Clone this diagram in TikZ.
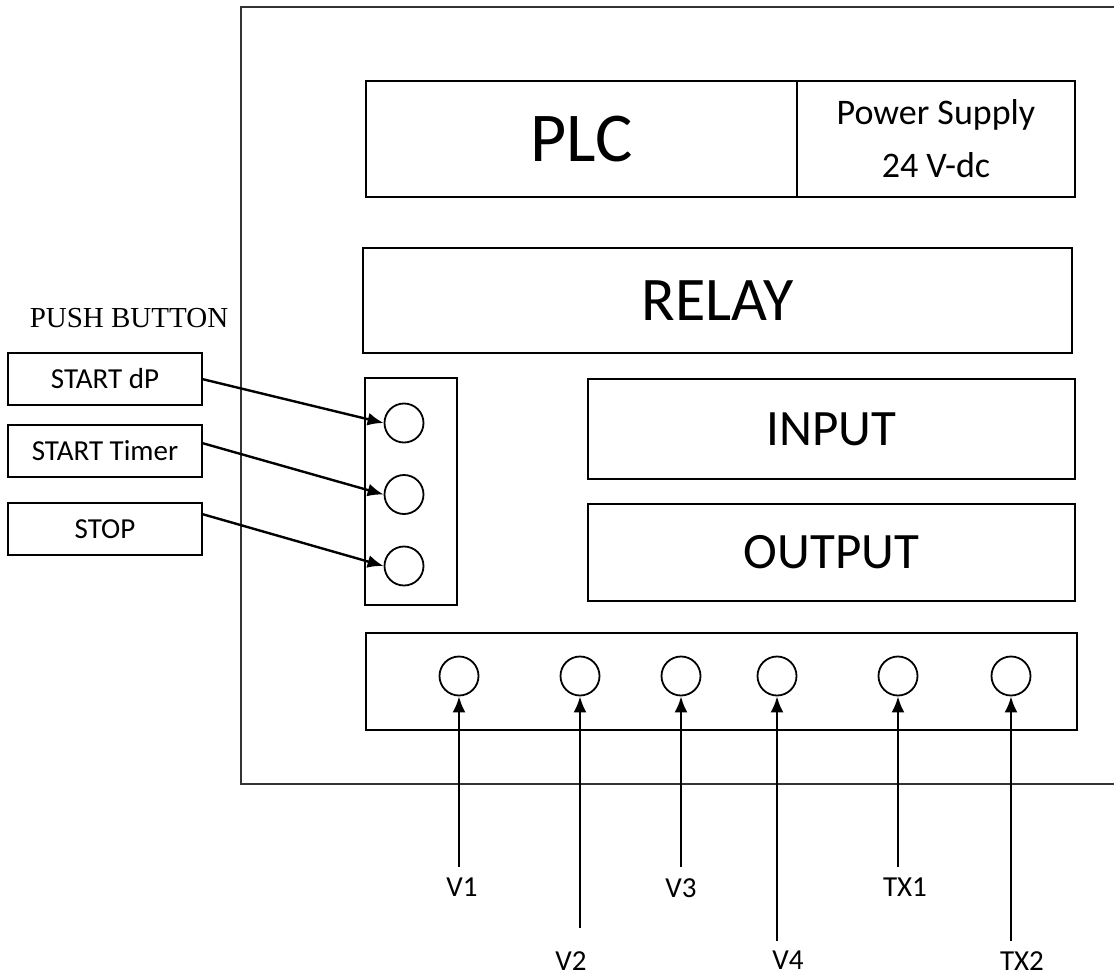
\documentclass[tikz,border=0pt]{standalone}
\usepackage{fontspec}
\setmainfont{Carlito}
\newfontfamily\timesfont{Liberation Serif}
\usetikzlibrary{arrows.meta}
\tikzset{
  blk/.style={draw,line width=2pt,inner sep=0pt,outer sep=0pt,align=center},
  hole/.style={draw,circle,line width=1.8pt,minimum size=39pt,inner sep=0pt},
  wire/.style={line width=2.4pt,-{Latex[length=16pt,width=13pt]}},
  tag/.style={inner sep=0pt,font=\fontsize{29}{34}\selectfont}
}
\begin{document}
\begin{tikzpicture}[x=1pt,y=-1pt]
\useasboundingbox (0,0) rectangle (1114,980);
\draw[line width=2.2pt,black!80] (1114,7) -- (241,7) -- (241,784) -- (1114,784);
\node[blk,minimum width=431pt,minimum height=116pt,font=\fontsize{70}{84}\selectfont] (plc) at (581.5,139) {PLC};
\node[blk,minimum width=278pt,minimum height=116pt,font=\fontsize{36}{53}\selectfont] (psu) at (936,139) {Power Supply\\24 V-dc};
\node[blk,minimum width=709pt,minimum height=105pt,font=\fontsize{62}{74}\selectfont] (relay) at (717.5,300.5) {RELAY};
\node[blk,minimum width=487pt,minimum height=100pt,font=\fontsize{51}{61}\selectfont] (input) at (831.5,429) {INPUT};
\node[blk,minimum width=487pt,minimum height=97pt,font=\fontsize{51}{61}\selectfont] (output) at (831.5,552.5) {OUTPUT};
\node[blk,minimum width=92pt,minimum height=227pt] (panel) at (411,491.5) {};
\node[blk,minimum width=711pt,minimum height=97pt] (bus) at (721.5,681.5) {};
\node[font=\timesfont\fontsize{29}{34}\selectfont,inner sep=0pt] (pbtitle) at (129,318) {PUSH BUTTON};
\foreach \n/\y/\s/\t in {1/379/0/START dP,2/451/8/START Timer,3/529/15/STOP}{
  \node[blk,tag,minimum width=194pt,minimum height=52pt] (pb\n) at (105,\y) {\t};
  \node[hole] (h\n) at (404,{423+(\n-1)*71.5}) {};
  \draw[wire] ([yshift=\s pt]pb\n.east) -- (h\n.west);
}
\foreach \n/\x/\y/\lx/\ly/\t in {1/459/867/462/878/V1,2/580/928/571/951/V2,3/681/867/681/878/V3,4/777/941/788/951/V4,5/898/867/905/878/TX1,6/1011/941/1022/951/TX2}{
  \node[hole] (p\n) at (\x,676) {};
  \coordinate (e\n) at (\x,\y);
  \node[tag,anchor=north] (t\n) at (\lx,\ly) {\t};
  \draw[wire] (e\n) -- (p\n.south);
}
\end{tikzpicture}
\end{document}
